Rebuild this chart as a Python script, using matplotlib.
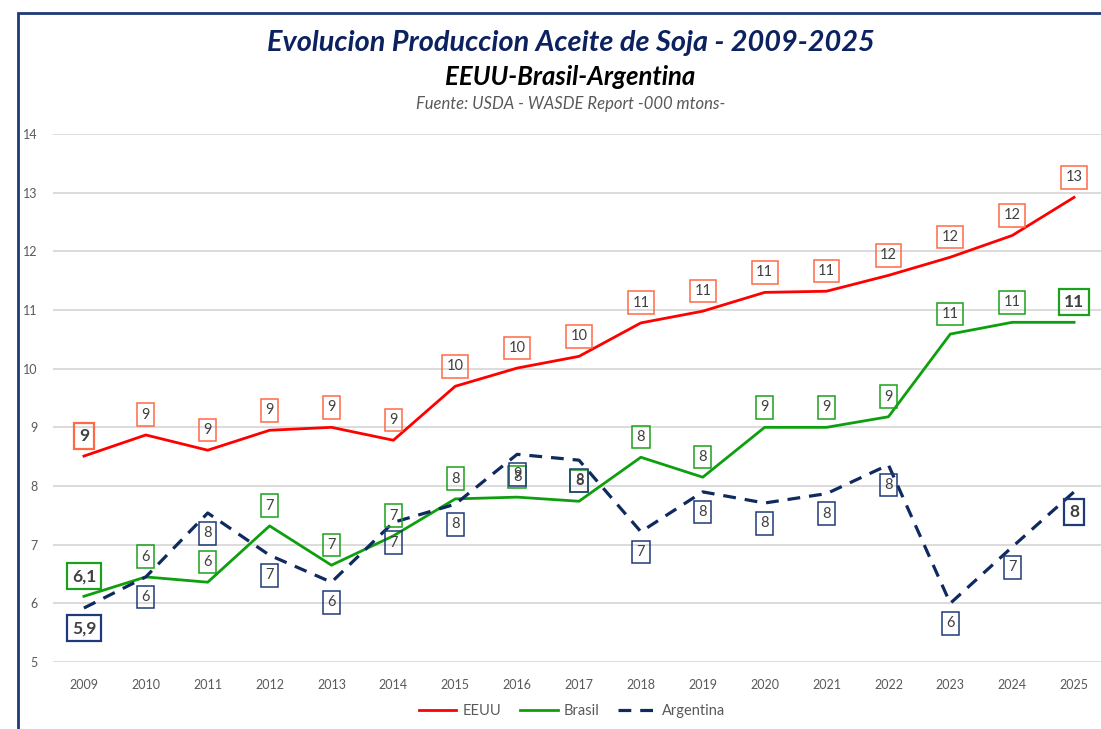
import matplotlib.pyplot as plt
import matplotlib.patches as patches
import numpy as np

# datos (millones de toneladas)
anios = [2009, 2010, 2011, 2012, 2013, 2014, 2015, 2016, 2017,
         2018, 2019, 2020, 2021, 2022, 2023, 2024, 2025]
eeuu = [8.51, 8.87, 8.61, 8.95, 9.00, 8.78, 9.70, 10.01, 10.21,
        10.78, 10.98, 11.30, 11.32, 11.59, 11.90, 12.27, 12.92]
brasil = [6.12, 6.45, 6.36, 7.32, 6.65, 7.15, 7.78, 7.81, 7.74,
          8.49, 8.15, 9.00, 9.00, 9.18, 10.59, 10.79, 10.79]
argentina = [5.92, 6.45, 7.54, 6.82, 6.36, 7.38, 7.69, 8.54, 8.44,
             7.22, 7.90, 7.71, 7.87, 8.36, 6.00, 6.96, 7.90]

plt.rcParams['font.family'] = ['Lato', 'DejaVu Sans']

fig = plt.figure(figsize=(11.01, 7.29), dpi=100)
ax = fig.add_axes([53/1101, 67/729, 1052/1101, 528/729])

x = np.arange(len(anios))
series = [
    ('EEUU', eeuu, '#FF0000', '-', '#FF6A45', 1),
    ('Brasil', brasil, '#0E9F0E', '-', '#1BA11B', 1),
    ('Argentina', argentina, '#0F2A5F', (0, (4, 2.8)), '#1F3A78', -1),
]

for nombre, valores, color, estilo, borde, lado in series:
    ax.plot(x, valores, color=color, linestyle=estilo, lw=2.0 if estilo == '-' else 2.3,
            label=nombre)
    for i, v in enumerate(valores):
        destacado = (i == 0) or (i == len(valores) - 1 and nombre != 'EEUU')
        if i == 0 and nombre != 'EEUU':
            texto = ('%.1f' % v).replace('.', ',')
        else:
            texto = '%d' % round(v)
        ax.annotate(texto, (x[i], v), xytext=(0, 14.5 * lado), textcoords='offset points',
                    ha='center', va='center', color='#404040',
                    fontsize=12.5 if destacado else 10.5,
                    fontweight='bold' if destacado else 'normal',
                    bbox=dict(boxstyle='square,pad=0.3', fc='none', ec=borde,
                              lw=1.6 if destacado else 1.1))

ax.set_xlim(-0.5, len(anios) - 0.5)
ax.set_ylim(5, 14)
ax.set_xticks(x)
ax.set_xticklabels(anios)
ax.set_yticks(range(5, 15))
ax.tick_params(axis='both', length=0, labelsize=9, labelcolor='#595959')
ax.tick_params(axis='y', pad=11)
ax.tick_params(axis='x', pad=12)
ax.grid(axis='y', color='#D9D9D9', lw=1.3)
ax.set_axisbelow(True)
for s in ax.spines.values():
    s.set_visible(False)

leg = ax.legend(loc='center', bbox_to_anchor=(572/1101, 18/729), bbox_transform=fig.transFigure,
                ncol=3, frameon=False, fontsize=10.5, handlelength=2.6, handletextpad=0.4,
                columnspacing=1.3)
for t in leg.get_texts():
    t.set_color('#595959')

fig.text(571/1101, 1 - 43/729, 'Evolucion Produccion Aceite de Soja - 2009-2025', ha='center',
         va='center', fontsize=20.8, fontweight='bold', fontstyle='italic', color='#0B2160')
fig.text(570/1101, 1 - 77/729, 'EEUU-Brasil-Argentina', ha='center', va='center',
         fontsize=18.5, fontweight='bold', fontstyle='italic', color='black')
fig.text(571/1101, 1 - 104/729, 'Fuente: USDA - WASDE Report -000 mtons-', ha='center',
         va='center', fontsize=12, fontstyle='italic', color='#595959')

# marco azul
fig.patches.append(patches.Rectangle((18/1101, -0.05), 1.2, 1 - 13/729 + 0.05,
                                     transform=fig.transFigure, fill=False,
                                     ec='#1F3A78', lw=2))

plt.savefig('out.png', dpi=100)
